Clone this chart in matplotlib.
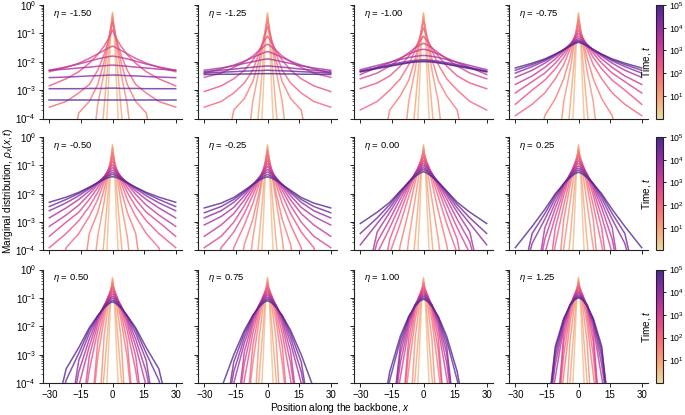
import numpy as np
import matplotlib.pyplot as plt
from matplotlib.colors import LinearSegmentedColormap, LogNorm
from matplotlib.cm import ScalarMappable
from matplotlib.ticker import LogLocator, NullFormatter

plt.rcParams['font.family'] = ['Liberation Sans', 'DejaVu Sans']
plt.rcParams['mathtext.fontset'] = 'custom'
plt.rcParams['mathtext.rm'] = 'Liberation Sans'
plt.rcParams['mathtext.it'] = 'Liberation Sans:italic'
plt.rcParams['font.size'] = 7

# eta value of each panel (row by row)
ETAS = [-1.50, -1.25, -1.00, -0.75, -0.50, -0.25, 0.00, 0.25, 0.50, 0.75, 1.00, 1.25]

# log10 of the time of each curve, earliest first
LOG_T = [0.5, 0.9, 1.3, 1.7, 2.1, 2.5, 2.9, 3.3, 3.7, 4.1, 4.5, 4.9]

# positions read off (right half, curves are roughly symmetric)
XS = [0, 1, 2, 4, 7, 11, 16, 22, 30]

# log10 rho_x(x, t) at XS, one row per time; -6 = below the axis
LOGRHO_M150 = [
    [-0.25, -1.3, -3.0, -6, -6, -6, -6, -6, -6],
    [-0.30, -1.0, -1.9, -3.6, -6, -6, -6, -6, -6],
    [-0.38, -0.85, -1.4, -2.4, -3.5, -6, -6, -6, -6],
    [-0.50, -0.9, -1.3, -2.0, -2.8, -3.4, -3.8, -6, -6],
    [-0.60, -0.95, -1.25, -1.75, -2.3, -2.8, -3.1, -3.4, -3.6],
    [-0.88, -1.05, -1.2, -1.45, -1.75, -2.05, -2.35, -2.6, -2.85],
    [-1.45, -1.48, -1.52, -1.6, -1.72, -1.88, -2.05, -2.2, -2.35],
    [-1.80, -1.81, -1.82, -1.85, -1.9, -1.98, -2.08, -2.18, -2.3],
    [-2.12, -2.12, -2.13, -2.14, -2.16, -2.19, -2.22, -2.26, -2.3],
    [-2.47, -2.47, -2.47, -2.48, -2.49, -2.5, -2.52, -2.54, -2.56],
    [-2.93, -2.93, -2.93, -2.94, -2.94, -2.94, -2.95, -2.95, -2.95],
    [-3.36, -3.36, -3.36, -3.36, -3.36, -3.36, -3.36, -3.36, -3.36],
]
LOGRHO_M125 = [
    [-0.27, -1.3, -3.0, -6, -6, -6, -6, -6, -6],
    [-0.32, -1.0, -1.9, -3.6, -6, -6, -6, -6, -6],
    [-0.41, -0.85, -1.35, -2.3, -3.4, -6, -6, -6, -6],
    [-0.55, -0.9, -1.25, -1.95, -2.7, -3.3, -3.7, -6, -6],
    [-0.76, -1.0, -1.25, -1.7, -2.3, -2.75, -3.1, -3.4, -3.6],
    [-1.10, -1.2, -1.33, -1.6, -1.95, -2.3, -2.6, -2.85, -3.05],
    [-1.38, -1.42, -1.48, -1.6, -1.8, -2.0, -2.2, -2.4, -2.55],
    [-1.64, -1.66, -1.69, -1.75, -1.85, -1.98, -2.12, -2.25, -2.4],
    [-1.90, -1.91, -1.92, -1.95, -2.0, -2.06, -2.14, -2.22, -2.3],
    [-2.15, -2.15, -2.16, -2.17, -2.19, -2.22, -2.26, -2.3, -2.35],
    [-2.30, -2.3, -2.31, -2.31, -2.32, -2.33, -2.35, -2.37, -2.4],
    [-2.42, -2.42, -2.42, -2.42, -2.43, -2.43, -2.44, -2.44, -2.45],
]
LOGRHO_M100 = [
    [-0.27, -1.3, -3.0, -6, -6, -6, -6, -6, -6],
    [-0.32, -1.0, -1.9, -3.6, -6, -6, -6, -6, -6],
    [-0.42, -0.85, -1.35, -2.3, -3.4, -6, -6, -6, -6],
    [-0.55, -0.9, -1.25, -1.9, -2.65, -3.2, -3.7, -6, -6],
    [-0.80, -1.0, -1.2, -1.6, -2.1, -2.6, -3.0, -3.4, -3.7],
    [-1.10, -1.2, -1.3, -1.5, -1.8, -2.15, -2.5, -2.75, -2.95],
    [-1.35, -1.38, -1.42, -1.52, -1.68, -1.9, -2.15, -2.4, -2.6],
    [-1.56, -1.57, -1.59, -1.64, -1.73, -1.87, -2.03, -2.2, -2.45],
    [-1.78, -1.78, -1.79, -1.81, -1.85, -1.92, -2.02, -2.13, -2.28],
    [-1.93, -1.93, -1.94, -1.95, -1.98, -2.03, -2.1, -2.2, -2.33],
    [-1.97, -1.97, -1.98, -1.99, -2.02, -2.07, -2.14, -2.22, -2.34],
    [-2.00, -2.0, -2.0, -2.01, -2.04, -2.09, -2.16, -2.24, -2.36],
]
LOGRHO_M075 = [
    [-0.27, -1.3, -3.0, -6, -6, -6, -6, -6, -6],
    [-0.32, -1.0, -1.9, -3.6, -6, -6, -6, -6, -6],
    [-0.42, -0.85, -1.35, -2.3, -3.4, -6, -6, -6, -6],
    [-0.55, -0.88, -1.2, -1.85, -2.6, -3.3, -3.9, -6, -6],
    [-0.72, -0.95, -1.15, -1.55, -2.1, -2.6, -3.1, -3.5, -3.9],
    [-0.88, -1.02, -1.15, -1.45, -1.85, -2.25, -2.65, -3.0, -3.5],
    [-1.00, -1.08, -1.17, -1.4, -1.7, -2.05, -2.4, -2.7, -3.1],
    [-1.10, -1.15, -1.22, -1.38, -1.62, -1.9, -2.2, -2.5, -2.8],
    [-1.18, -1.22, -1.27, -1.39, -1.58, -1.8, -2.05, -2.3, -2.55],
    [-1.24, -1.27, -1.31, -1.41, -1.57, -1.76, -1.97, -2.17, -2.4],
    [-1.28, -1.3, -1.34, -1.43, -1.57, -1.74, -1.93, -2.1, -2.3],
    [-1.32, -1.34, -1.37, -1.45, -1.58, -1.73, -1.9, -2.05, -2.22],
]
LOGRHO_M050 = [
    [-0.27, -1.3, -3.0, -6, -6, -6, -6, -6, -6],
    [-0.32, -1.0, -1.9, -3.6, -6, -6, -6, -6, -6],
    [-0.42, -0.85, -1.35, -2.3, -3.5, -6, -6, -6, -6],
    [-0.55, -0.88, -1.2, -1.85, -2.65, -3.4, -6, -6, -6],
    [-0.70, -0.95, -1.15, -1.6, -2.2, -2.8, -3.4, -3.9, -6],
    [-0.85, -1.0, -1.15, -1.48, -1.95, -2.45, -2.95, -3.4, -3.9],
    [-0.98, -1.07, -1.17, -1.42, -1.78, -2.2, -2.65, -3.0, -3.5],
    [-1.08, -1.14, -1.21, -1.39, -1.67, -2.02, -2.4, -2.75, -3.15],
    [-1.17, -1.21, -1.26, -1.4, -1.62, -1.9, -2.2, -2.5, -2.85],
    [-1.25, -1.28, -1.32, -1.43, -1.6, -1.82, -2.07, -2.32, -2.6],
    [-1.32, -1.34, -1.37, -1.46, -1.6, -1.78, -1.99, -2.2, -2.45],
    [-1.40, -1.41, -1.43, -1.5, -1.62, -1.77, -1.95, -2.12, -2.3],
]
LOGRHO_M025 = [
    [-0.27, -1.3, -3.0, -6, -6, -6, -6, -6, -6],
    [-0.32, -1.0, -1.9, -3.6, -6, -6, -6, -6, -6],
    [-0.42, -0.82, -1.3, -2.2, -3.6, -6, -6, -6, -6],
    [-0.50, -0.85, -1.2, -1.95, -2.9, -3.8, -6, -6, -6],
    [-0.65, -0.92, -1.15, -1.65, -2.35, -3.1, -3.9, -6, -6],
    [-0.80, -0.98, -1.15, -1.52, -2.05, -2.7, -3.35, -3.9, -6],
    [-0.93, -1.05, -1.18, -1.46, -1.88, -2.42, -3.0, -3.5, -3.9],
    [-1.04, -1.12, -1.22, -1.43, -1.77, -2.22, -2.7, -3.1, -3.5],
    [-1.14, -1.2, -1.27, -1.43, -1.7, -2.07, -2.48, -2.8, -3.1],
    [-1.23, -1.27, -1.32, -1.45, -1.67, -1.97, -2.3, -2.6, -2.85],
    [-1.32, -1.35, -1.39, -1.48, -1.67, -1.92, -2.2, -2.45, -2.67],
    [-1.40, -1.42, -1.45, -1.53, -1.68, -1.88, -2.13, -2.33, -2.5],
]
LOGRHO_P000 = [
    [-0.27, -1.3, -3.0, -6, -6, -6, -6, -6, -6],
    [-0.32, -1.0, -1.9, -3.6, -6, -6, -6, -6, -6],
    [-0.40, -0.8, -1.25, -2.2, -3.6, -6, -6, -6, -6],
    [-0.50, -0.75, -1.0, -1.6, -2.6, -3.8, -6, -6, -6],
    [-0.62, -0.78, -0.96, -1.4, -2.1, -3.05, -4.1, -6, -6],
    [-0.73, -0.85, -0.98, -1.3, -1.85, -2.65, -3.6, -6, -6],
    [-0.83, -0.92, -1.02, -1.28, -1.72, -2.38, -3.2, -4.1, -6],
    [-0.92, -0.99, -1.07, -1.28, -1.65, -2.18, -2.9, -3.7, -6],
    [-1.00, -1.05, -1.12, -1.3, -1.6, -2.05, -2.65, -3.35, -6],
    [-1.08, -1.12, -1.18, -1.33, -1.58, -1.97, -2.5, -3.05, -3.8],
    [-1.15, -1.18, -1.23, -1.36, -1.58, -1.92, -2.38, -2.85, -3.4],
    [-1.22, -1.25, -1.29, -1.4, -1.6, -1.9, -2.3, -2.65, -3.05],
]
LOGRHO_P025 = [
    [-0.27, -1.3, -3.0, -6, -6, -6, -6, -6, -6],
    [-0.33, -1.0, -1.9, -3.6, -6, -6, -6, -6, -6],
    [-0.42, -0.8, -1.25, -2.3, -3.9, -6, -6, -6, -6],
    [-0.52, -0.75, -1.02, -1.7, -2.9, -6, -6, -6, -6],
    [-0.63, -0.78, -0.97, -1.48, -2.4, -3.8, -6, -6, -6],
    [-0.74, -0.84, -0.98, -1.35, -2.05, -3.2, -6, -6, -6],
    [-0.84, -0.91, -1.02, -1.3, -1.87, -2.8, -4.1, -6, -6],
    [-0.93, -0.98, -1.07, -1.3, -1.75, -2.5, -3.6, -6, -6],
    [-1.02, -1.06, -1.13, -1.32, -1.68, -2.3, -3.2, -6, -6],
    [-1.10, -1.13, -1.19, -1.35, -1.65, -2.15, -2.9, -3.75, -6],
    [-1.17, -1.2, -1.25, -1.39, -1.64, -2.05, -2.7, -3.4, -6],
    [-1.24, -1.27, -1.31, -1.43, -1.65, -2.0, -2.55, -3.15, -3.9],
]
LOGRHO_P050 = [
    [-0.27, -1.3, -3.0, -6, -6, -6, -6, -6, -6],
    [-0.33, -1.0, -1.9, -3.7, -6, -6, -6, -6, -6],
    [-0.40, -0.8, -1.25, -2.35, -6, -6, -6, -6, -6],
    [-0.48, -0.74, -1.02, -1.75, -3.1, -6, -6, -6, -6],
    [-0.58, -0.75, -0.95, -1.5, -2.55, -6, -6, -6, -6],
    [-0.68, -0.79, -0.94, -1.35, -2.15, -3.55, -6, -6, -6],
    [-0.77, -0.85, -0.97, -1.28, -1.92, -3.05, -6, -6, -6],
    [-0.86, -0.92, -1.02, -1.27, -1.78, -2.7, -4.1, -6, -6],
    [-0.94, -0.99, -1.07, -1.28, -1.7, -2.45, -3.6, -6, -6],
    [-1.01, -1.05, -1.12, -1.3, -1.65, -2.25, -3.2, -6, -6],
    [-1.08, -1.12, -1.17, -1.33, -1.63, -2.12, -2.95, -3.9, -6],
    [-1.14, -1.17, -1.22, -1.36, -1.63, -2.05, -2.75, -3.5, -6],
]
LOGRHO_P075 = [
    [-0.27, -1.3, -3.0, -6, -6, -6, -6, -6, -6],
    [-0.33, -1.0, -1.95, -3.8, -6, -6, -6, -6, -6],
    [-0.40, -0.8, -1.27, -2.4, -6, -6, -6, -6, -6],
    [-0.48, -0.73, -1.02, -1.78, -3.3, -6, -6, -6, -6],
    [-0.58, -0.74, -0.93, -1.5, -2.7, -6, -6, -6, -6],
    [-0.67, -0.78, -0.92, -1.33, -2.25, -3.9, -6, -6, -6],
    [-0.76, -0.84, -0.95, -1.27, -1.98, -3.3, -6, -6, -6],
    [-0.84, -0.9, -0.99, -1.25, -1.82, -2.9, -6, -6, -6],
    [-0.91, -0.96, -1.03, -1.25, -1.72, -2.6, -4.0, -6, -6],
    [-0.98, -1.02, -1.08, -1.27, -1.66, -2.4, -3.6, -6, -6],
    [-1.04, -1.08, -1.13, -1.3, -1.63, -2.25, -3.25, -6, -6],
    [-1.10, -1.13, -1.18, -1.33, -1.62, -2.15, -3.0, -4.2, -6],
]
LOGRHO_P100 = [
    [-0.27, -1.3, -3.0, -6, -6, -6, -6, -6, -6],
    [-0.33, -1.0, -1.95, -3.8, -6, -6, -6, -6, -6],
    [-0.40, -0.8, -1.28, -2.45, -6, -6, -6, -6, -6],
    [-0.48, -0.73, -1.03, -1.8, -3.5, -6, -6, -6, -6],
    [-0.57, -0.73, -0.93, -1.52, -2.85, -6, -6, -6, -6],
    [-0.66, -0.77, -0.92, -1.35, -2.4, -6, -6, -6, -6],
    [-0.74, -0.82, -0.94, -1.28, -2.1, -3.8, -6, -6, -6],
    [-0.81, -0.88, -0.97, -1.25, -1.92, -3.3, -6, -6, -6],
    [-0.88, -0.93, -1.01, -1.24, -1.8, -2.95, -6, -6, -6],
    [-0.94, -0.98, -1.05, -1.25, -1.72, -2.7, -6, -6, -6],
    [-1.00, -1.03, -1.09, -1.27, -1.68, -2.5, -3.9, -6, -6],
    [-1.05, -1.08, -1.13, -1.3, -1.65, -2.35, -3.6, -6, -6],
]
LOGRHO_P125 = [
    [-0.27, -1.3, -3.0, -6, -6, -6, -6, -6, -6],
    [-0.33, -1.0, -1.95, -3.9, -6, -6, -6, -6, -6],
    [-0.40, -0.8, -1.3, -2.5, -6, -6, -6, -6, -6],
    [-0.47, -0.72, -1.03, -1.85, -3.7, -6, -6, -6, -6],
    [-0.56, -0.72, -0.92, -1.55, -3.0, -6, -6, -6, -6],
    [-0.64, -0.75, -0.9, -1.36, -2.55, -6, -6, -6, -6],
    [-0.72, -0.8, -0.92, -1.28, -2.25, -6, -6, -6, -6],
    [-0.79, -0.85, -0.95, -1.25, -2.03, -3.8, -6, -6, -6],
    [-0.85, -0.9, -0.98, -1.24, -1.9, -3.35, -6, -6, -6],
    [-0.91, -0.95, -1.02, -1.24, -1.82, -3.05, -6, -6, -6],
    [-0.96, -0.99, -1.05, -1.25, -1.76, -2.85, -6, -6, -6],
    [-1.00, -1.03, -1.08, -1.27, -1.72, -2.7, -6, -6, -6],
]

PANELS = [LOGRHO_M150, LOGRHO_M125, LOGRHO_M100, LOGRHO_M075,
          LOGRHO_M050, LOGRHO_M025, LOGRHO_P000, LOGRHO_P025,
          LOGRHO_P050, LOGRHO_P075, LOGRHO_P100, LOGRHO_P125]

# "Agsunset" colours, light (early) to dark (late)
cmap = LinearSegmentedColormap.from_list(
    'agsunset_r', ['#edd9a3', '#f6a97a', '#fa7876', '#ea4f88', '#c0369d', '#872ca2', '#4b2991'])
norm = LogNorm(vmin=1, vmax=1e5)

W, H = 685, 415
fig = plt.figure(figsize=(W / 100, H / 100), dpi=100)

col_left = [43, 198, 354, 509]
row_top = [5, 137, 269.5]
ax_w, ax_h = 139, 113.5
spine_col = '#222222'

xs = np.array(XS)
x_full = np.concatenate([-xs[::-1], xs[1:]])

for k, (eta, curves) in enumerate(zip(ETAS, PANELS)):
    r, c = divmod(k, 4)
    ax = fig.add_axes([col_left[c] / W, 1 - (row_top[r] + ax_h) / H, ax_w / W, ax_h / H])
    for lt, logv in zip(LOG_T, curves):
        v = np.array(logv)
        y = 10 ** np.concatenate([v[::-1], v[1:]])
        ax.plot(x_full, y, color=cmap(norm(10 ** lt)), lw=1.1, alpha=0.8,
                solid_joinstyle='round')
    ax.set_yscale('log')
    ax.set_ylim(1e-4, 1)
    ax.set_xlim(-33, 33)
    ax.set_xticks([-30, -15, 0, 15, 30])
    ax.yaxis.set_major_locator(LogLocator(base=10, numticks=10))
    ax.yaxis.set_minor_locator(LogLocator(base=10, subs=np.arange(2, 10), numticks=10))
    ax.yaxis.set_minor_formatter(NullFormatter())
    for s in ['top', 'right']:
        ax.spines[s].set_visible(False)
    for s in ['left', 'bottom']:
        ax.spines[s].set_linewidth(0.8)
        ax.spines[s].set_color(spine_col)
    ax.tick_params(which='major', length=3, width=0.7, color=spine_col,
                   labelsize=7, pad=2)
    ax.tick_params(which='minor', length=1.8, width=0.5, color=spine_col)
    if c != 0:
        ax.tick_params(labelleft=False)
    if r != 2:
        ax.tick_params(labelbottom=False)
    ax.text(0.07, 0.975, f'$\\eta$ = {eta:.2f}', transform=ax.transAxes,
            ha='left', va='top', fontsize=6.8)

    if c == 3:
        cax = fig.add_axes([656 / W, 1 - (row_top[r] + ax_h) / H, 7 / W, ax_h / H])
        cb = fig.colorbar(ScalarMappable(norm=norm, cmap=cmap), cax=cax)
        cb.set_ticks([1e1, 1e2, 1e3, 1e4, 1e5])
        cb.ax.minorticks_off()
        cb.outline.set_linewidth(0.8)
        cb.outline.set_edgecolor(spine_col)
        cb.ax.tick_params(length=2.5, width=0.7, color=spine_col, labelsize=6.3, pad=1.5)
        cb.set_label('Time, $t$', fontsize=7.2, labelpad=2)
        cb.ax.yaxis.set_label_position('left')

fig.text(0.012, 0.54, 'Marginal distribution, $\\rho_x(x, t)$', rotation=90,
         ha='center', va='center', fontsize=7.3)
fig.text(0.497, 0.017, 'Position along the backbone, $x$', ha='center',
         va='center', fontsize=7.3)

fig.savefig('out.png', dpi=100)
